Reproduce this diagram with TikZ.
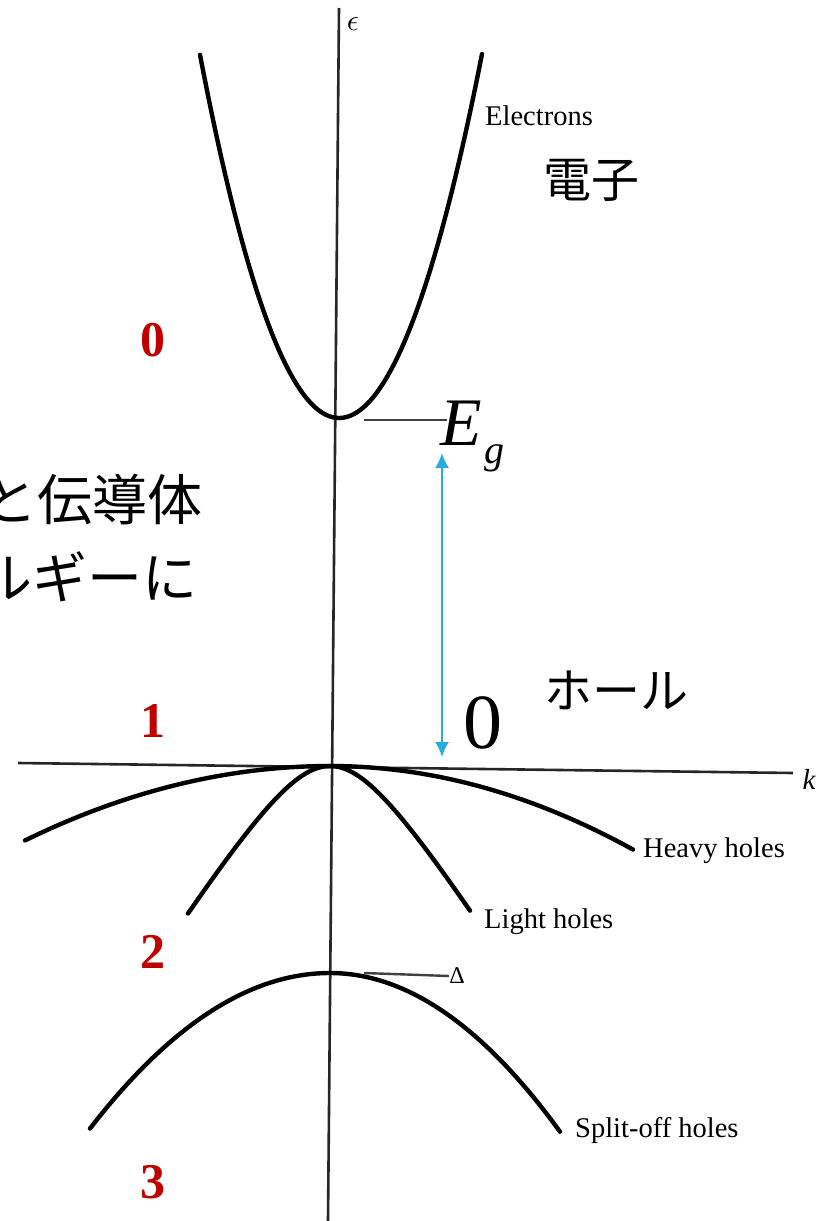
\documentclass[tikz,border=0pt]{standalone}
\usepackage{fontspec}
\setmainfont{Liberation Serif}
\newfontfamily\jpfont{Noto Sans CJK JP}
\usetikzlibrary{arrows.meta,positioning}
\definecolor{gapblue}{RGB}{41,171,226}
\definecolor{numred}{RGB}{192,0,0}

\begin{document}
\begin{tikzpicture}[
    x=1pt, y=-1pt,
    band/.style={line width=4.4pt, line cap=round, black},
    axis/.style={line width=2.6pt, black!85},
    tickline/.style={line width=2.4pt, black!75},
    curvelabel/.style={inner sep=0pt, anchor=base west, font=\fontsize{28.5}{30}\selectfont},
    jplabel/.style={inner sep=0pt, font=\jpfont\fontsize{48}{50}\selectfont},
    sidetext/.style={inner sep=0pt, anchor=east, font=\jpfont\fontsize{55}{57}\selectfont},
    bandno/.style={inner sep=0pt, text=numred, font=\bfseries\fontsize{50}{52}\selectfont},
    gaparr/.style={{Latex[length=15pt,width=14pt]}-{Latex[length=15pt,width=14pt]}, line width=2pt, gapblue}
]
  \fill[white] (0,0) rectangle (826,1221);
  \useasboundingbox (0,0) rectangle (826,1221);

  % axes
  \coordinate (etop) at (339,8);
  \coordinate (ebot) at (328,1221);
  \coordinate (kleft) at (18,763);
  \coordinate (kright) at (793,773);
  \draw[axis] (etop) -- (ebot);
  \draw[axis] (kleft) -- (kright);
  \node[scale=3, inner sep=0pt] (epslbl) at (353,24) {$\epsilon$};
  \node[inner sep=0pt, font=\itshape\fontsize{29}{29}\selectfont] (klbl) at (809,779) {k};

  % bands (x in units of 10px inside the square)
  \coordinate (cbm) at (339,418);
  \coordinate (vbm) at (330,766);
  \coordinate (som) at (330,973);
  \draw[band] plot[domain=-139:0, samples=60] ({339+\x}, {418-1.88*(\x/10)^2})
     -- plot[domain=0:143, samples=60] ({339+\x}, {418-1.78*(\x/10)^2});
  \draw[band] plot[domain=-305:0, samples=60] ({330+\x}, {766+0.08*(\x/10)^2})
     -- plot[domain=0:303, samples=60] ({330+\x}, {766+0.091*(\x/10)^2});
  \draw[band] plot[domain=-142:140, samples=80] ({330+\x}, {766+94*(sqrt(1+(\x/60)^2)-1)});
  \draw[band] plot[domain=-240:0, samples=60] ({330+\x}, {973+0.27*(\x/10)^2})
     -- plot[domain=0:230, samples=60] ({330+\x}, {973+0.30*(\x/10)^2});

  \node[curvelabel] (elec) at (485,125) {Electrons};
  \node[curvelabel] (heavy) at (643,857) {Heavy holes};
  \node[curvelabel] (light) at (484,928) {Light holes};
  \node[curvelabel] (split) at (575,1137) {Split-off holes};

  % gap and split-off markers
  \coordinate (egtick) at (364,420);
  \coordinate (egend) at (447,420);
  \draw[tickline] (egtick) -- (egend);
  \coordinate (dtick) at (364,973);
  \node[inner sep=0pt, font=\fontsize{24}{24}\selectfont] (dlbl) at (457,976) {Δ};
  \draw[tickline] (dtick) -- (dlbl.west);

  \node[inner sep=0pt, anchor=base west, font=\itshape\fontsize{68}{68}\selectfont] (egE) at (440,445) {E};
  \node[inner sep=0pt, anchor=base west, font=\itshape\fontsize{40}{40}\selectfont] (egg) at (484,463) {g};
  \node[inner sep=0pt, anchor=base, font=\fontsize{78}{78}\selectfont] (zero) at (483,748) {0};
  \coordinate (gaptop) at (442,453);
  \coordinate (gapbot) at (442,757);
  \draw[gaparr] (gaptop) -- (gapbot);

  % japanese notes
  \node[jplabel] (denshi) at (591,180) {電子};
  \node[jplabel] (hole) at (616,690) {ホール};
  \node[sidetext] (sideA) at (203,500) {と伝導体};
  \node[sidetext] (sideB) at (198,577) {ルギーに};

  % band numbers
  \node[bandno] (n0) at (153,340) {0};
  \node[bandno] (n1) at (153,721) {1};
  \node[bandno] (n2) at (153,952) {2};
  \node[bandno] (n3) at (153,1182) {3};
\end{tikzpicture}
\end{document}
